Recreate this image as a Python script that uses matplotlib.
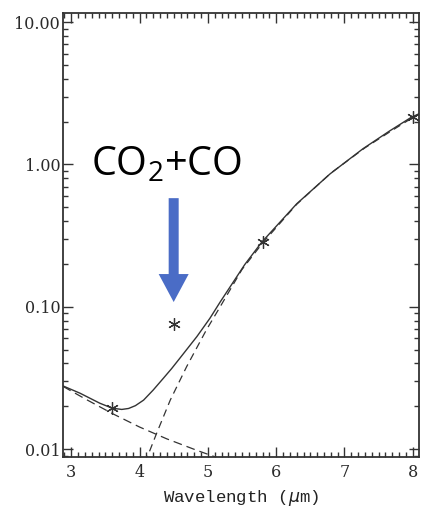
import matplotlib
matplotlib.use("Agg")
import matplotlib.pyplot as plt
from matplotlib.ticker import FixedLocator, FixedFormatter, MultipleLocator, LogLocator, NullFormatter

# photometry points (asterisks)
obs_wl   = [3.6, 4.5, 5.8, 8.0]
obs_flux = [0.0195, 0.0755, 0.287, 2.15]

# total model (solid)
tot_wl   = [2.88, 3.13, 3.42, 3.60, 3.74, 3.84, 3.94, 4.06, 4.20, 4.35, 4.47, 4.59, 4.84, 5.03, 5.18,
            5.54, 5.79, 6.30, 6.79, 7.27, 7.66, 7.98, 8.09]
tot_flux = [0.0278, 0.0247, 0.0210, 0.0194, 0.0190, 0.0193, 0.0202, 0.0221, 0.0260, 0.0315, 0.0368, 0.0435, 0.0618, 0.083, 0.108,
            0.198, 0.285, 0.529, 0.86, 1.29, 1.72, 2.15, 2.27]

# stellar component (falling dashes)
star_wl   = [2.88, 3.2, 3.6, 4.0, 4.4, 4.84, 5.2]
star_flux = [0.0276, 0.0226, 0.0178, 0.0143, 0.0118, 0.0098, 0.0085]

# planet component (rising dashes)
pl_wl   = [4.08, 4.25, 4.45, 4.69, 4.98, 5.18, 5.5, 5.8, 6.3, 6.8, 7.3, 7.7, 8.0, 8.09]
pl_flux = [0.0080, 0.0129, 0.0221, 0.038, 0.069, 0.100, 0.183, 0.280, 0.525, 0.87, 1.31, 1.74, 2.14, 2.26]

yticks  = [0.01, 0.1, 1.0, 10.0]
ylabels = ["0.01", "0.10", "1.00", "10.00"]
xticks  = [3, 4, 5, 6, 7, 8]

fig = plt.figure(figsize=(4.21, 5.12), dpi=100)
ax = fig.add_axes([0.1496, 0.1074, 0.8456, 0.8672])

ink = "#333333"
ax.plot(tot_wl, tot_flux, color=ink, lw=1.0)
ax.plot(star_wl, star_flux, color=ink, lw=0.9, dashes=(7, 4))
ax.plot(pl_wl, pl_flux, color=ink, lw=0.9, dashes=(6, 4))
ax.plot(obs_wl, obs_flux, ls="none", marker=(6, 2, 0), ms=9, mew=0.9, color=ink)

ax.set_yscale("log")
ax.set_xlim(2.88, 8.09)
ax.set_ylim(0.0088, 11.6)

ax.yaxis.set_major_locator(FixedLocator(yticks))
ax.yaxis.set_major_formatter(FixedFormatter(ylabels))
ax.yaxis.set_minor_locator(LogLocator(base=10, subs=range(2, 10)))
ax.yaxis.set_minor_formatter(NullFormatter())
ax.xaxis.set_major_locator(FixedLocator(xticks))
ax.xaxis.set_minor_locator(MultipleLocator(0.1))

ax.tick_params(which="both", direction="in", top=True, right=True, color=ink, width=1.0)
ax.tick_params(which="major", length=7)
ax.tick_params(which="minor", length=3.5)
for lab in ax.get_xticklabels() + ax.get_yticklabels():
    lab.set_fontfamily("DejaVu Serif")
    lab.set_fontsize(11.5)
    lab.set_color("#2a2a2a")
ax.tick_params(axis="x", pad=5)
ax.tick_params(axis="y", pad=2)
for s in ax.spines.values():
    s.set_color(ink)
    s.set_linewidth(1.3)

ax.set_xlabel("Wavelength ($\\mu$m)", fontfamily="Liberation Mono", fontsize=12.5, color="#222222", labelpad=5)

# CO2+CO absorption callout
ax.text(3.29, 0.837, "$\\mathregular{CO_2}$+CO", fontfamily="Open Sans", fontsize=28.5, color="black",
        ha="left", va="baseline")
ax.annotate("", xy=(4.5, 0.108), xytext=(4.5, 0.58),
            arrowprops=dict(arrowstyle="simple,tail_width=0.5,head_width=1.5,head_length=1.4",
                            mutation_scale=14.4, color="#4A6CC6", lw=0, shrinkA=0, shrinkB=0))

fig.savefig("out.png", dpi=100)
plt.close(fig)
